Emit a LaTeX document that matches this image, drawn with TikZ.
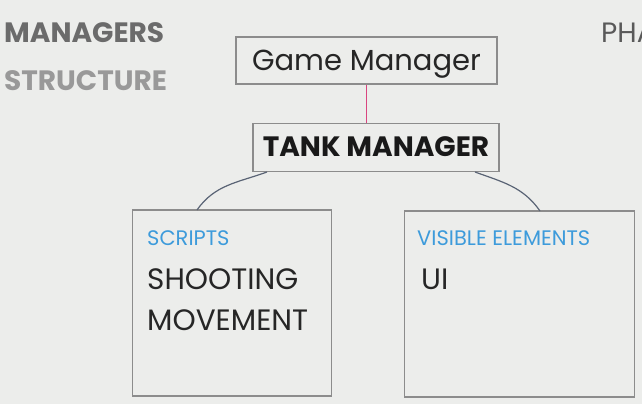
\documentclass[tikz,border=0pt]{standalone}
\usepackage{fontspec}
\setmainfont{Poppins}
\usepackage{tikz}
\usetikzlibrary{positioning}
\definecolor{bgray}{HTML}{ECEDEB}
\definecolor{linegray}{HTML}{8C8C8C}
\definecolor{pinkline}{HTML}{D9457F}
\definecolor{curveblue}{HTML}{5A6475}
\definecolor{headblue}{HTML}{3D9BDB}
\definecolor{darkhead}{HTML}{6B6B6B}
\definecolor{lighthead}{HTML}{999999}

\begin{document}
\begin{tikzpicture}[x=1pt,y=-1pt]
\tikzstyle{box}=[rectangle, draw=linegray, line width=1.4pt, inner sep=0pt]
\tikzstyle{title}=[anchor=base west, inner sep=0pt, font=\fontsize{28}{28}\selectfont\bfseries]
\tikzstyle{item}=[anchor=base west, inner sep=0pt, font=\fontsize{29.5}{29.5}\selectfont, text=black!85]
\tikzstyle{kind}=[anchor=base west, inner sep=0pt, font=\fontsize{21}{21}\selectfont, text=headblue]
\tikzstyle{connect}=[curveblue, line width=1.2pt]

\fill[bgray] (0,0) rectangle (642,404);
\useasboundingbox (0,0) rectangle (642,404);

\node[title, text=darkhead] (managers) at (4,42) {MANAGERS};
\node[title, text=lighthead] (structure) at (4,90) {STRUCTURE};
\node[anchor=base west, inner sep=0pt, font=\fontsize{28}{28}\selectfont, text=black!65] (pha) at (601,42) {PHA};

\node[box, minimum width=261pt, minimum height=47pt, text height=20pt, text depth=0pt, font=\fontsize{29}{29}\selectfont, text=black!85] (gm) at (366.5,60.5) {Game Manager};
\node[box, minimum width=246pt, minimum height=48pt, text height=20pt, text depth=0pt, font=\fontsize{28}{28}\selectfont\bfseries, text=black!90] (tank) at (376,147.5) {\raisebox{1.5pt}{TANK MANAGER}};

\node[box, minimum width=199pt, minimum height=186pt] (scripts) at (232,303) {};
\node[box, minimum width=230pt, minimum height=186pt] (visible) at (519.5,304) {};

\node[kind] (scr) at (147,245) {SCRIPTS};
\node[item] (shoot) at (147,289) {SHOOTING};
\node[item] (move) at (147,330) {MOVEMENT};
\node[kind] (vis) at (417,245) {VISIBLE ELEMENTS};
\node[item] (ui) at (421,289) {UI};

\coordinate (tl) at (267,172);
\coordinate (tr) at (475,172);
\coordinate (sl) at (197,210);
\coordinate (vr) at (540,211);

\draw[pinkline, line width=1.4pt] (gm.south) -- (gm.south |- tank.north);
\draw[connect] (tl) to[out=200,in=55] (sl);
\draw[connect] (tr) to[out=-20,in=125] (vr);
\end{tikzpicture}
\end{document}
